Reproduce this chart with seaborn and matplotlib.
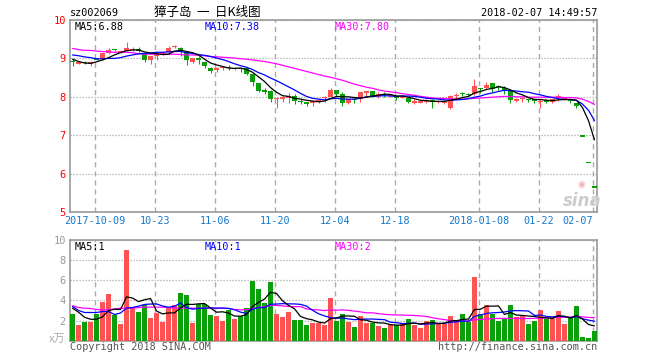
import matplotlib
matplotlib.use("Agg")
import matplotlib.pyplot as plt
import numpy as np
import pandas as pd
import seaborn as sns

# ---------------- data ----------------
open_ = [8.93, 8.87, 8.90, 8.86, 8.99, 8.98, 9.15, 9.23, 9.15, 9.20,
         9.21, 9.24, 9.11, 8.96, 9.07, 9.13, 9.16, 9.30, 9.27, 9.16,
         8.91, 9.02, 8.91, 8.75, 8.70, 8.75, 8.77, 8.73, 8.74, 8.74,
         8.59, 8.35, 8.16, 8.15, 7.95, 7.96, 7.96, 8.02, 7.88, 7.86,
         7.83, 7.88, 7.96, 7.99, 8.18, 8.06, 7.84, 7.93, 7.93, 8.12,
         8.15, 8.02, 8.07, 8.01, 8.03, 7.98, 7.98, 7.86, 7.86, 7.86,
         7.90, 7.87, 7.85, 7.72, 8.02, 8.10, 8.07, 8.06, 8.23, 8.24,
         8.35, 8.27, 8.24, 8.15, 7.88, 7.94, 7.94, 7.92, 7.88, 7.91,
         7.86, 7.99, 7.94, 7.92, 7.83, 6.98, 6.28, 5.65]
high_ = [8.98, 8.91, 8.92, 8.93, 9.00, 9.17, 9.26, 9.25, 9.21, 9.44,
         9.29, 9.29, 9.16, 9.07, 9.16, 9.17, 9.32, 9.35, 9.29, 9.18,
         9.01, 9.07, 8.92, 8.77, 8.77, 8.80, 8.82, 8.77, 8.76, 8.76,
         8.60, 8.36, 8.24, 8.17, 7.99, 8.02, 8.09, 8.06, 7.93, 7.87,
         7.90, 7.93, 8.03, 8.24, 8.19, 8.12, 7.95, 7.97, 8.13, 8.15,
         8.16, 8.12, 8.12, 8.05, 8.04, 8.02, 7.99, 7.93, 7.90, 7.93,
         7.93, 7.92, 7.90, 8.04, 8.10, 8.12, 8.10, 8.47, 8.24, 8.39,
         8.37, 8.30, 8.28, 8.16, 7.96, 8.00, 7.98, 7.97, 7.93, 7.93,
         7.95, 8.06, 7.99, 7.95, 7.84, 6.98, 6.28, 5.65]
low_ = [8.81, 8.85, 8.86, 8.81, 8.95, 8.96, 9.12, 9.18, 9.13, 9.19,
        9.18, 9.16, 8.91, 8.85, 8.96, 9.10, 9.14, 9.26, 9.07, 8.82,
        8.88, 8.85, 8.75, 8.61, 8.65, 8.71, 8.70, 8.70, 8.65, 8.56,
        8.29, 8.12, 8.08, 7.86, 7.71, 7.86, 7.84, 7.82, 7.80, 7.76,
        7.76, 7.83, 7.86, 7.97, 8.00, 7.75, 7.80, 7.84, 7.87, 8.02,
        7.99, 7.96, 8.00, 7.99, 7.92, 7.96, 7.83, 7.81, 7.83, 7.84,
        7.71, 7.84, 7.82, 7.69, 7.93, 8.02, 8.00, 8.05, 8.11, 8.20,
        8.12, 8.19, 8.06, 7.84, 7.86, 7.86, 7.86, 7.84, 7.71, 7.84,
        7.84, 7.89, 7.92, 7.85, 7.70, 6.98, 6.28, 5.65]
close_ = [8.91, 8.89, 8.89, 8.90, 8.97, 9.14, 9.21, 9.22, 9.19, 9.26,
          9.24, 9.20, 8.96, 9.05, 9.14, 9.15, 9.27, 9.33, 9.18, 8.97,
          9.00, 8.95, 8.79, 8.67, 8.75, 8.77, 8.75, 8.74, 8.72, 8.59,
          8.39, 8.15, 8.14, 7.93, 7.97, 7.98, 8.02, 7.89, 7.86, 7.80,
          7.89, 7.90, 8.00, 8.18, 8.06, 7.84, 7.93, 7.91, 8.12, 8.13,
          8.00, 8.06, 8.06, 8.04, 7.96, 8.00, 7.87, 7.87, 7.87, 7.91,
          7.88, 7.89, 7.86, 8.02, 8.04, 8.08, 8.06, 8.28, 8.22, 8.32,
          8.21, 8.26, 8.18, 7.91, 7.95, 7.95, 7.93, 7.91, 7.89, 7.86,
          7.93, 8.00, 7.97, 7.90, 7.75, 6.98, 6.28, 5.65]
ma5 = [8.98, 8.92, 8.88, 8.87, 8.91, 8.96, 9.02, 9.09, 9.15, 9.20,
       9.22, 9.22, 9.17, 9.14, 9.12, 9.10, 9.11, 9.19, 9.21, 9.18,
       9.15, 9.09, 8.98, 8.88, 8.83, 8.79, 8.75, 8.74, 8.75, 8.71,
       8.64, 8.52, 8.40, 8.24, 8.12, 8.03, 8.01, 7.96, 7.94, 7.91,
       7.89, 7.87, 7.89, 7.95, 8.01, 8.00, 8.00, 7.98, 7.97, 7.99,
       8.02, 8.04, 8.07, 8.06, 8.02, 8.02, 7.99, 7.95, 7.91, 7.90,
       7.88, 7.88, 7.88, 7.91, 7.94, 7.98, 8.01, 8.10, 8.14, 8.19,
       8.22, 8.26, 8.24, 8.18, 8.10, 8.05, 7.98, 7.93, 7.93, 7.91,
       7.90, 7.92, 7.93, 7.93, 7.91, 7.72, 7.38, 6.88]
ma10 = [9.09, 9.07, 9.04, 9.02, 8.99, 8.99, 9.00, 9.00, 9.02, 9.06,
        9.09, 9.12, 9.13, 9.14, 9.16, 9.16, 9.17, 9.18, 9.18, 9.15,
        9.13, 9.10, 9.08, 9.05, 9.01, 8.97, 8.92, 8.86, 8.81, 8.77,
        8.71, 8.63, 8.57, 8.49, 8.42, 8.34, 8.26, 8.18, 8.09, 8.01,
        7.96, 7.94, 7.92, 7.95, 7.96, 7.94, 7.94, 7.94, 7.96, 8.00,
        8.01, 8.02, 8.03, 8.02, 8.01, 8.02, 8.02, 8.01, 7.99, 7.96,
        7.95, 7.94, 7.92, 7.91, 7.92, 7.93, 7.95, 7.99, 8.02, 8.07,
        8.10, 8.14, 8.17, 8.16, 8.15, 8.13, 8.12, 8.08, 8.05, 8.01,
        7.98, 7.95, 7.93, 7.93, 7.91, 7.81, 7.65, 7.38]
ma30 = [9.26, 9.23, 9.21, 9.21, 9.19, 9.18, 9.17, 9.16, 9.16, 9.16,
        9.15, 9.12, 9.11, 9.11, 9.11, 9.11, 9.11, 9.11, 9.10, 9.09,
        9.09, 9.08, 9.07, 9.05, 9.04, 9.03, 9.02, 9.01, 8.99, 8.98,
        8.96, 8.94, 8.92, 8.89, 8.86, 8.82, 8.78, 8.74, 8.70, 8.66,
        8.62, 8.58, 8.54, 8.51, 8.47, 8.43, 8.38, 8.33, 8.29, 8.25,
        8.22, 8.18, 8.15, 8.13, 8.11, 8.08, 8.06, 8.04, 8.01, 7.99,
        7.97, 7.96, 7.96, 7.95, 7.94, 7.94, 7.95, 7.96, 7.97, 7.98,
        7.99, 8.00, 8.01, 8.01, 8.00, 8.00, 7.99, 7.99, 7.99, 7.99,
        7.99, 7.99, 7.98, 7.98, 7.97, 7.94, 7.88, 7.80]
volume = [2.67, 1.57, 1.87, 1.87, 2.67, 3.87, 4.67, 2.57, 1.67, 8.97,
          3.30, 2.87, 3.53, 2.27, 2.77, 1.87, 3.37, 3.53, 4.77, 4.57,
          1.77, 3.67, 3.67, 2.57, 2.47, 1.97, 3.07, 2.17, 2.47, 3.27,
          5.97, 5.17, 3.77, 5.87, 2.67, 2.37, 2.87, 2.07, 2.07, 1.57,
          1.77, 1.77, 1.57, 4.20, 2.00, 2.67, 1.87, 1.37, 2.47, 1.77,
          1.77, 1.47, 1.27, 1.67, 1.57, 1.77, 2.17, 1.57, 1.27, 1.97,
          2.07, 1.67, 1.67, 2.47, 2.07, 2.67, 1.87, 6.37, 2.67, 3.57,
          2.67, 1.97, 2.17, 3.57, 2.37, 2.47, 1.67, 1.97, 3.07, 2.17,
          2.17, 2.97, 1.67, 2.27, 3.47, 0.37, 0.27, 0.97]
vma5 = [3.23, 2.83, 2.33, 2.13, 2.13, 2.37, 2.99, 3.13, 3.09, 4.35,
        4.24, 3.88, 4.07, 4.19, 2.95, 2.66, 2.76, 2.76, 3.26, 3.62,
        3.60, 3.66, 3.69, 3.25, 2.83, 2.87, 2.75, 2.45, 2.43, 2.59,
        3.39, 3.81, 4.13, 4.81, 4.69, 3.97, 3.51, 3.17, 2.41, 2.19,
        2.07, 1.85, 1.75, 2.18, 2.26, 2.44, 2.46, 2.42, 2.08, 2.03,
        1.85, 1.77, 1.75, 1.59, 1.55, 1.55, 1.69, 1.75, 1.67, 1.75,
        1.81, 1.71, 1.73, 1.97, 1.99, 2.11, 2.15, 3.09, 3.13, 3.43,
        3.43, 3.45, 2.61, 2.79, 2.55, 2.51, 2.45, 2.41, 2.31, 2.27,
        2.21, 2.47, 2.41, 2.25, 2.51, 2.15, 1.61, 1.47]
vma10 = [3.40, 3.00, 2.80, 2.80, 2.80, 2.90, 2.90, 2.60, 2.75, 3.24,
         3.30, 3.43, 3.60, 3.64, 3.65, 3.45, 3.32, 3.42, 3.73, 3.29,
         3.13, 3.21, 3.23, 3.26, 3.23, 3.24, 3.21, 3.07, 2.84, 2.71,
         3.13, 3.28, 3.29, 3.62, 3.64, 3.68, 3.66, 3.65, 3.61, 3.44,
         3.02, 2.68, 2.46, 2.29, 2.23, 2.26, 2.16, 2.09, 2.13, 2.15,
         2.15, 2.12, 2.09, 1.83, 1.79, 1.70, 1.73, 1.75, 1.63, 1.65,
         1.68, 1.70, 1.74, 1.82, 1.87, 1.96, 1.93, 2.41, 2.55, 2.71,
         2.77, 2.80, 2.85, 2.96, 2.99, 2.97, 2.95, 2.51, 2.55, 2.41,
         2.36, 2.46, 2.41, 2.28, 2.39, 2.18, 2.04, 1.94]
vma30 = [3.47, 3.30, 3.23, 3.20, 3.10, 3.07, 3.07, 3.15, 3.23, 3.23,
         3.23, 3.30, 3.33, 3.33, 3.33, 3.33, 3.30, 3.25, 3.23, 3.23,
         3.23, 3.23, 3.23, 3.23, 3.23, 3.23, 3.20, 3.10, 3.07, 3.08,
         3.19, 3.31, 3.37, 3.50, 3.50, 3.46, 3.40, 3.38, 3.39, 3.15,
         3.09, 3.06, 2.99, 3.06, 3.03, 3.06, 3.01, 2.94, 2.86, 2.77,
         2.77, 2.69, 2.61, 2.58, 2.55, 2.55, 2.52, 2.50, 2.46, 2.41,
         2.28, 2.17, 2.10, 1.98, 1.96, 1.97, 1.94, 2.08, 2.10, 2.17,
         2.20, 2.21, 2.23, 2.20, 2.22, 2.21, 2.20, 2.22, 2.24, 2.26,
         2.27, 2.32, 2.33, 2.35, 2.42, 2.37, 2.31, 2.29]
tick_bars = [4, 14, 24, 34, 44, 54, 68, 78, 87]
tick_labels = ["2017-10-09", "10-23", "11-06", "11-20", "12-04", "12-18",
               "2018-01-08", "01-22", "02-07"]
price_ticks = [5, 6, 7, 8, 9, 10]
vol_ticks = [2, 4, 6, 8, 10]

# ---------------- style ----------------
sns.set_theme(style="white")
plt.rcParams["font.family"] = ["DejaVu Sans Mono", "Noto Sans CJK SC"]

RED = "#ff5252"
GREEN = "#0aa00a"
BLUE_TXT = "#1479cc"
GRID = "#aaaaaa"
SPINE = "#999999"
W, H = 660, 360

fig = plt.figure(figsize=(6.6, 3.6), dpi=100)
fig.patch.set_facecolor("white")
L, R = 70, 597
ax = fig.add_axes([L / W, 1 - 212 / H, (R - L) / W, (212 - 20) / H])
axv = fig.add_axes([L / W, 1 - 340.7 / H, (R - L) / W, (340.7 - 240) / H])

n = len(close_)
idx = np.arange(n)
o = np.array(open_); c = np.array(close_)
up = []
for i in range(n):
    if c[i] > o[i]:
        up.append(True)
    elif c[i] < o[i]:
        up.append(False)
    else:
        up.append(i > 0 and c[i] >= c[i - 1])
colors = [RED if u else GREEN for u in up]

# candles
ax.vlines(idx, low_, high_, colors=colors, linewidth=0.75, zorder=2)
body_h = np.maximum(np.abs(c - o), 0.03)
body_b = (o + c) / 2 - body_h / 2
ax.bar(idx, body_h, bottom=body_b, width=0.85, color=colors, linewidth=0, zorder=3)

dfp = pd.DataFrame({"i": idx, "ma5": ma5, "ma10": ma10, "ma30": ma30})
sns.lineplot(data=dfp, x="i", y="ma30", ax=ax, color="#ff00ff", linewidth=0.9, zorder=4)
sns.lineplot(data=dfp, x="i", y="ma10", ax=ax, color="#0000ff", linewidth=0.9, zorder=5)
sns.lineplot(data=dfp, x="i", y="ma5", ax=ax, color="black", linewidth=0.9, zorder=6)

# volume
dfv = pd.DataFrame({"i": idx, "vol": volume, "dir": ["up" if u else "down" for u in up],
                    "vma5": vma5, "vma10": vma10, "vma30": vma30})
sns.barplot(data=dfv, x="i", y="vol", hue="dir", palette={"up": RED, "down": GREEN},
            native_scale=True, dodge=False, width=0.85, saturation=1, errorbar=None,
            legend=False, ax=axv, linewidth=0, zorder=3)
sns.lineplot(data=dfv, x="i", y="vma30", ax=axv, color="#ff00ff", linewidth=0.9, zorder=4)
sns.lineplot(data=dfv, x="i", y="vma10", ax=axv, color="#0000ff", linewidth=0.9, zorder=5)
sns.lineplot(data=dfv, x="i", y="vma5", ax=axv, color="black", linewidth=0.9, zorder=6)

gx = [t - 0.3 for t in tick_bars]
for a in (ax, axv):
    a.set_xlim(-0.42, n - 0.58)
    a.set_xlabel(""); a.set_ylabel("")
    a.set_axisbelow(True)
    a.set_facecolor("white")
    a.set_xticks(gx)
    a.grid(axis="x", color=GRID, linestyle=(0, (3.6, 2.9)), linewidth=1.0)
    a.grid(axis="y", color=GRID, linestyle=(0, (1, 1.4)), linewidth=0.9)
    for s in a.spines.values():
        s.set_visible(True)
        s.set_color(SPINE)
        s.set_linewidth(1.2)
    a.tick_params(axis="both", length=0)

ax.set_ylim(5, 10)
ax.set_yticks(price_ticks)
ax.set_yticklabels([str(v) for v in price_ticks])
ax.tick_params(axis="y", labelcolor="#ff0000", labelsize=7.5, pad=3)
ax.set_xticklabels(tick_labels)
ax.tick_params(axis="x", labelcolor=BLUE_TXT, labelsize=7.3, pad=3)
ax.get_xticklabels()[-1].set_horizontalalignment("right")

axv.set_ylim(0, 10)
axv.set_yticks(vol_ticks)
axv.set_yticklabels([str(v) for v in vol_ticks])
axv.tick_params(axis="y", labelcolor="#999999", labelsize=7.5, pad=3)
axv.set_xticklabels([])


def ftxt(x, y, s, **kw):
    kw.setdefault("va", "center")
    kw.setdefault("ha", "left")
    kw.setdefault("size", 7.3)
    fig.text(x / W, 1 - y / H, s, **kw)


ftxt(70, 13, "sz002069", color="black")
ftxt(207, 12.5, "獐子岛  一  日K线图", ha="center", size=9,
     family=["Noto Sans CJK SC", "DejaVu Sans"], color="black")
ftxt(597, 13, "2018-02-07 14:49:57", ha="right", color="black")
ftxt(75, 26.5, "MA5:6.88", color="black")
ftxt(205, 26.5, "MA10:7.38", color="#0000ff")
ftxt(335, 26.5, "MA30:7.80", color="#ff00ff")
ftxt(75, 246.5, "MA5:1", color="black")
ftxt(205, 246.5, "MA10:1", color="#0000ff")
ftxt(335, 246.5, "MA30:2", color="#ff00ff")
ftxt(57, 339, "x万", ha="center", size=8, color="#aaaaaa", style="italic",
     family=["Noto Sans CJK SC", "DejaVu Sans"])
ftxt(70, 346.5, "Copyright 2018 SINA.COM", color="#555555")
ftxt(597, 346.5, "http://finance.sina.com.cn", ha="right", color="#555555")
ftxt(582, 201, "sina", ha="center", size=12, weight="bold", style="italic",
     color="#cccccc", family="DejaVu Sans")
ftxt(581, 184, "◉", ha="center", size=6.5, color="#f2b0b0", family="DejaVu Sans")

fig.savefig("out.png", dpi=100, facecolor="white")
